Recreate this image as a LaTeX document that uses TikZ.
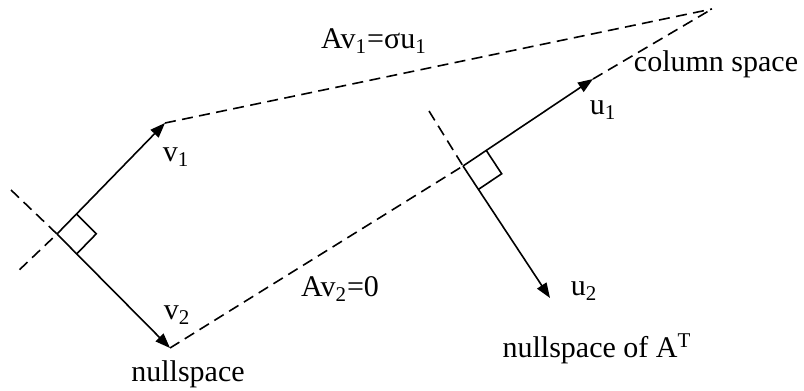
\documentclass[tikz,border=0pt]{standalone}
\usepackage{fontspec}
\setmainfont{Liberation Serif}
\usepackage{tikz}
\usetikzlibrary{arrows.meta,calc,positioning}
\newcommand{\lo}[1]{\textsubscript{#1}}
\newcommand{\hi}[1]{\textsuperscript{#1}}

\begin{document}
\begin{tikzpicture}[
    x=0.5pt, y=-0.5pt,
    every node/.style={align=center, font=\fontsize{15}{18}\selectfont, inner sep=0pt},
    vec/.style={line width=0.8pt, -{Triangle[length=7.5pt,width=5.5pt]}},
    ray/.style={line width=0.8pt, dash pattern=on 5.5pt off 3.2pt},
    corner/.style={line width=0.8pt}
]
\useasboundingbox (0,0) rectangle (804,391);

% Row space side
\coordinate (o1) at (57,234);
\coordinate (v1) at (165,123);
\coordinate (v2) at (170,348);
\coordinate (back1) at (11,190);
\coordinate (back2) at (15,274);

% Column space side
\coordinate (o2) at (463,166);
\coordinate (u1) at (593,79);
\coordinate (u2) at (550,298);
\coordinate (back3) at (429,111);
\coordinate (apex) at (712,9);

% Vectors
\draw[vec] (o1) -- (v1);
\draw[vec] (o1) -- (v2);
\draw[vec] (o2) -- (u1);
\draw[vec] (o2) -- (u2);

% Dashed lines
\draw[ray] (back1) -- (o1) -- (back2);
\draw[ray] (back3) -- (o2);
\draw[ray] (v1) -- (apex);
\draw[ray] (v2) -- (o2);
\draw[ray] (u1) -- (apex);

% Right angles
\coordinate (p1) at ($(o1)!14pt!(v1)$);
\coordinate (q1) at ($(o1)!14pt!(v2)$);
\draw[corner] (p1) -- ($(p1)+(q1)-(o1)$) -- (q1);
\coordinate (p2) at ($(o2)!14pt!(u1)$);
\coordinate (q2) at ($(o2)!14pt!(u2)$);
\draw[corner] (p2) -- ($(p2)+(q2)-(o2)$) -- (q2);

% Labels
\node (lv1) at (176,157) {v\lo{1}};
\node (lv2) at (177,315) {v\lo{2}};
\node (lnull) at (188,374) {nullspace};
\node (lav1) at (374,41) {Av\lo{1}=σu\lo{1}};
\node (lav2) at (340,289) {Av\lo{2}=0};
\node (lu1) at (603,110) {u\lo{1}};
\node (lu2) at (584,291) {u\lo{2}};
\node (lcol) at (716,64) {column space};
\node (lnullt) at (597,349) {nullspace of A\hi{T}};

\end{tikzpicture}
\end{document}
